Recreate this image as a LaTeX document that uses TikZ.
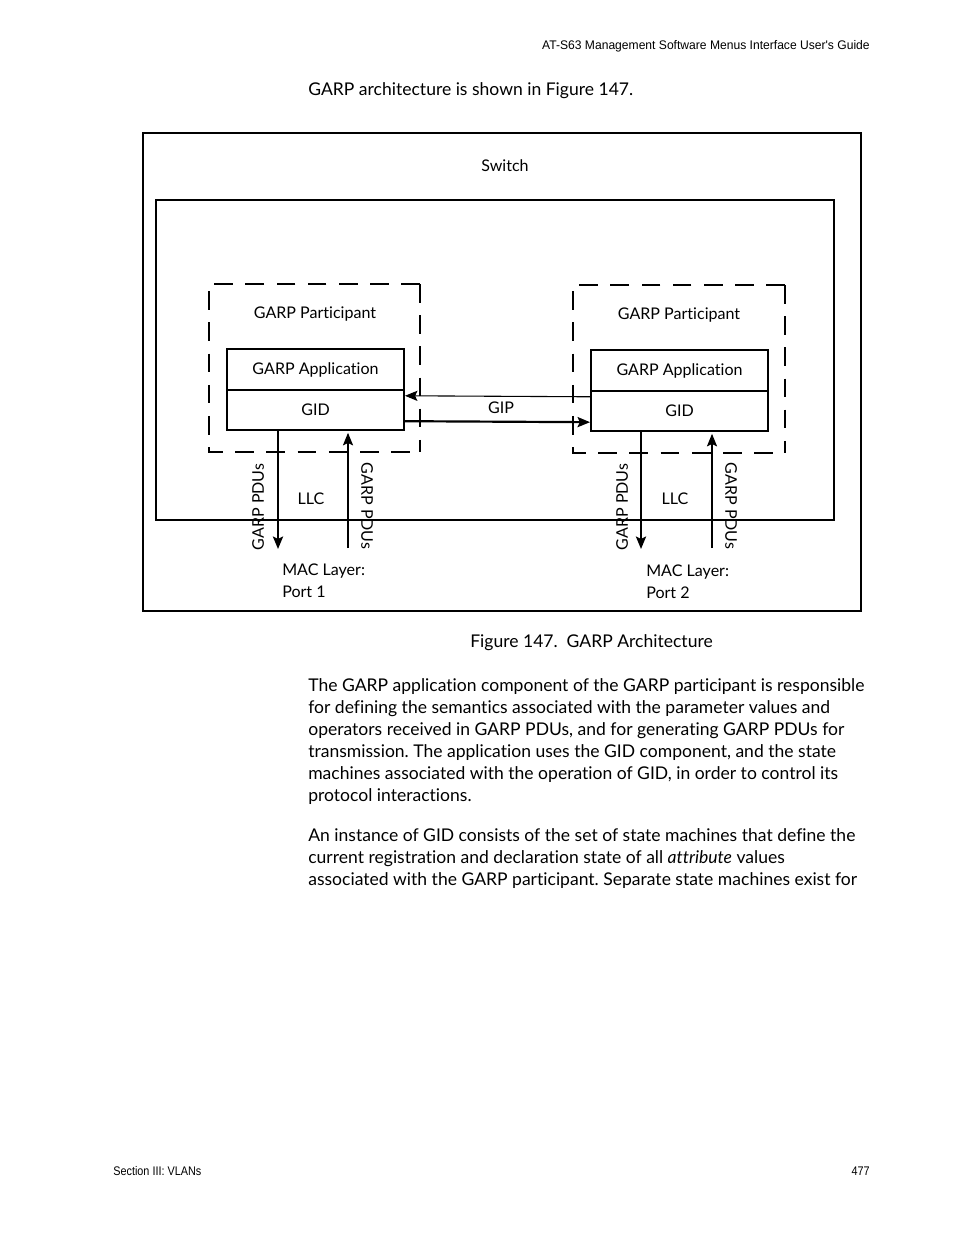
\documentclass[tikz,border=0pt]{standalone}
\usepackage{fontspec}
\setmainfont{Lato}[Ligatures=NoCommon]
\newfontfamily\condfont{Liberation Sans}
\usetikzlibrary{positioning, arrows.meta}
\frenchspacing

\tikzset{
  label/.style={font=\fontsize{10.3}{12}\selectfont, inner sep=0pt},
  appbox/.style={draw, line width=1.3pt, minimum width=113.5pt, minimum height=26pt, inner sep=0pt, font=\fontsize{10.3}{12}\selectfont},
  thick arrow/.style={line width=1.4pt, -{Stealth[length=8pt, width=6.5pt, inset=1.5pt]}},
  thin arrow/.style={line width=0.7pt, -{Stealth[length=8pt, width=6.5pt, inset=1.5pt]}},
  part/.style={dash pattern=on 12pt off 8pt, line width=0.8pt},
  partright/.style={dash pattern=on 12pt off 8pt, line width=1.4pt},
  body/.style={anchor=base west, inner sep=0pt, align=left, font=\fontsize{11.25}{14.11}\selectfont},
  pagetext/.style={inner sep=0pt, font=\condfont\fontsize{8}{10}\selectfont},
}

\begin{document}
\begin{tikzpicture}[x=0.6415pt, y=-0.6415pt]
  \useasboundingbox (0,0) rectangle (954,1235);

  % page header and footer
  \node[pagetext, anchor=base east] (head) at (870,49) {\scalebox{0.97}[1]{AT-S63 Management Software Menus Interface User's Guide}};
  \node[pagetext, anchor=base west] (foot) at (113,1175) {\scalebox{0.87}[1]{Section III: VLANs}};
  \node[pagetext, anchor=base east] (page) at (870,1175) {\scalebox{0.87}[1]{477}};

  \node[body] (intro) at (308,95) {GARP architecture is shown in Figure 147.};

  % switch
  \draw[line width=0.9pt] (143,133) rectangle (861,611);
  \node[label] (switch) at (505,166) {Switch};
  \draw[line width=0.9pt] (156,200) rectangle (834,520);

  % participant 1
  \draw[part] (420,284) -- (209,284) -- (209,452) -- (420,452);
  \draw[partright] (420,284) -- (420,452);
  \node[label] (part1) at (315,314) {GARP Participant};
  \node[appbox] (app1) at (315.5,369.5) {GARP Application};
  \node[appbox, below=-1.3pt of app1] (gid1) {GID};

  % participant 2
  \draw[part] (785,285) -- (573,285) -- (573,453) -- (785,453);
  \draw[partright] (785,285) -- (785,453);
  \node[label] (part2) at (679,315) {GARP Participant};
  \node[appbox] (app2) at (679.5,370.5) {GARP Application};
  \node[appbox, below=-1.3pt of app2] (gid2) {GID};

  % GIP
  \draw[thin arrow] ([yshift=-4.5pt]gid2.north west) -- ([yshift=-4.5pt]gid1.north east);
  \draw[thick arrow] ([yshift=6.5pt]gid1.south east) -- ([yshift=6.5pt]gid2.south west);
  \node[label] (gip) at (501,408) {GIP};

  % LLC port 1
  \coordinate (down1) at (278,549);
  \coordinate (up1) at (348,548);
  \draw[thick arrow] (gid1.south -| down1) -- (down1);
  \draw[thin arrow] (up1) -- ([yshift=-1pt]gid1.south -| up1);
  \node[label, rotate=90] (pdu1a) at (258,507) {GARP PDUs};
  \node[label, rotate=-90] (pdu1b) at (367,506) {GARP PDUs};
  \node[label] (llc1) at (311,499) {LLC};
  \node[label, anchor=north west, align=left, font=\fontsize{10.3}{13.5}\selectfont] (mac1) at (282,564) {MAC Layer:\\Port 1};

  % LLC port 2
  \coordinate (down2) at (641,549);
  \coordinate (up2) at (712,548);
  \draw[thick arrow] (gid2.south -| down2) -- (down2);
  \draw[thin arrow] (up2) -- ([yshift=-1pt]gid2.south -| up2);
  \node[label, rotate=90] (pdu2a) at (622,507) {GARP PDUs};
  \node[label, rotate=-90] (pdu2b) at (731,506) {GARP PDUs};
  \node[label] (llc2) at (675,499) {LLC};
  \node[label, anchor=north west, align=left, font=\fontsize{10.3}{13.5}\selectfont] (mac2) at (646,565) {MAC Layer:\\Port 2};

  % caption and body text (base = last line)
  \node[body] (caption) at (470,647) {Figure 147.\ \ GARP Architecture};
  \node[body] (para1) at (308,801) {The GARP application component of the GARP participant is responsible\\for defining the semantics associated with the parameter values and\\operators received in GARP PDUs, and for generating GARP PDUs for\\transmission. The application uses the GID component, and the state\\machines associated with the operation of GID, in order to control its\\protocol interactions.};
  \node[body] (para2) at (308,885) {An instance of GID consists of the set of state machines that define the\\current registration and declaration state of all \textit{attribute} values\\associated with the GARP participant. Separate state machines exist for};
\end{tikzpicture}
\end{document}
